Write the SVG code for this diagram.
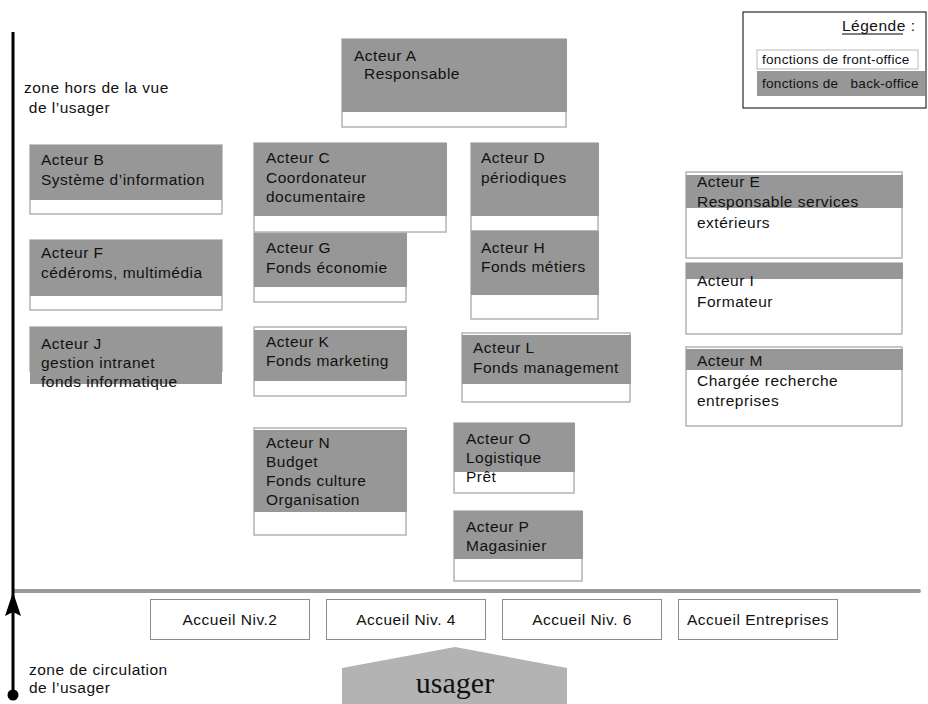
<svg xmlns="http://www.w3.org/2000/svg" width="928" height="704" viewBox="0 0 928 704">
<defs>
<style>
.t{font-family:"Liberation Sans",Arial,sans-serif;font-size:15.5px;letter-spacing:0.5px;fill:#111}
.ts{font-family:"Liberation Sans",Arial,sans-serif;font-size:13.5px;letter-spacing:0.3px;fill:#111}
.box{fill:#fff;stroke:#b4b4b4;stroke-width:1.5}
.g{fill:#979797}
.acc{fill:#fff;stroke:#8c8c8c;stroke-width:1}
</style>
</defs>
<rect width="928" height="704" fill="#fff"/>

<!-- separator -->
<line x1="14" y1="591" x2="919" y2="591" stroke="#9a9a9a" stroke-width="4" stroke-linecap="round"/>

<g id="connectors">
<line x1="13" y1="32" x2="13" y2="695" stroke="#000" stroke-width="3"/>
<path d="M13,592 L21,616 L13,612 L5,616 Z" fill="#000"/>
<circle cx="13" cy="695" r="5.5" fill="#000"/>
</g>

<g id="zone-labels">
<text class="t" x="24" y="93">zone hors de la vue</text>
<text class="t" x="24" y="113" xml:space="preserve"> de l’usager</text>
<text class="t" x="29" y="675">zone de circulation</text>
<text class="t" x="29" y="693">de l’usager</text>
</g>

<g id="legende">
<rect x="743" y="12" width="183" height="96" fill="#fff" stroke="#000" stroke-width="1"/>
<text class="t" x="842" y="31">Légende :</text>
<line x1="842" y1="34" x2="903" y2="34" stroke="#000" stroke-width="1"/>
<rect x="757" y="50" width="161" height="19" fill="#fff" stroke="#bbb" stroke-width="1"/>
<text class="ts" x="762" y="64">fonctions de front-office</text>
<rect x="757" y="71" width="168" height="25" class="g"/>
<text class="ts" x="762" y="88" xml:space="preserve">fonctions de   back-office</text>
</g>

<g id="acteur-a">
<rect class="box" x="342" y="39" width="224" height="88"/>
<rect class="g" x="342" y="39" width="225" height="73"/>
<text class="t" x="354" y="61">Acteur A</text>
<text class="t" x="364" y="79">Responsable</text>
</g>

<g id="acteur-b">
<rect class="box" x="30" y="145" width="192" height="69"/>
<rect class="g" x="30" y="145" width="192" height="55"/>
<text class="t" x="41" y="165">Acteur B</text>
<text class="t" x="41" y="185">Système d’information</text>
</g>

<g id="acteur-c">
<rect class="box" x="254" y="143" width="192" height="89"/>
<rect class="g" x="254" y="143" width="193" height="73"/>
<text class="t" x="266" y="163">Acteur C</text>
<text class="t" x="266" y="183">Coordonateur</text>
<text class="t" x="266" y="202">documentaire</text>
</g>

<g id="acteur-d">
<rect class="box" x="471" y="143" width="127" height="88"/>
<rect class="g" x="471" y="143" width="128" height="73"/>
<text class="t" x="481" y="163">Acteur D</text>
<text class="t" x="481" y="183">périodiques</text>
</g>

<g id="acteur-e">
<rect class="box" x="686" y="172" width="216" height="86"/>
<rect class="g" x="686" y="175" width="217" height="33"/>
<text class="t" x="697" y="187">Acteur E</text>
<text class="t" x="697" y="207">Responsable services</text>
<text class="t" x="697" y="228">extérieurs</text>
</g>

<g id="acteur-g">
<rect class="box" x="254" y="233" width="152" height="69"/>
<rect class="g" x="254" y="233" width="153" height="54"/>
<text class="t" x="266" y="253">Acteur G</text>
<text class="t" x="266" y="273">Fonds économie</text>
</g>

<g id="acteur-h">
<rect class="box" x="471" y="231" width="127" height="88"/>
<rect class="g" x="471" y="231" width="128" height="64"/>
<text class="t" x="481" y="253">Acteur H</text>
<text class="t" x="481" y="272">Fonds métiers</text>
</g>

<g id="acteur-f">
<rect class="box" x="30" y="240" width="192" height="70"/>
<rect class="g" x="30" y="240" width="192" height="56"/>
<text class="t" x="41" y="258">Acteur F</text>
<text class="t" x="41" y="278">cédéroms, multimédia</text>
</g>

<g id="acteur-i">
<rect class="box" x="686" y="263" width="216" height="71"/>
<rect class="g" x="686" y="263" width="217" height="16"/>
<text class="t" x="697" y="286">Acteur I</text>
<text class="t" x="697" y="307">Formateur</text>
</g>

<g id="acteur-j">
<rect class="box" x="30" y="327" width="192" height="44"/>
<rect class="g" x="30" y="327" width="192" height="57"/>
<text class="t" x="41" y="349">Acteur J</text>
<text class="t" x="41" y="368">gestion intranet</text>
<text class="t" x="41" y="387">fonds informatique</text>
</g>

<g id="acteur-k">
<rect class="box" x="254" y="327" width="152" height="69"/>
<rect class="g" x="254" y="330" width="153" height="51"/>
<text class="t" x="266" y="347">Acteur K</text>
<text class="t" x="266" y="366">Fonds marketing</text>
</g>

<g id="acteur-l">
<rect class="box" x="462" y="333" width="168" height="69"/>
<rect class="g" x="462" y="335" width="169" height="49"/>
<text class="t" x="473" y="353">Acteur L</text>
<text class="t" x="473" y="373">Fonds management</text>
</g>

<g id="acteur-m">
<rect class="box" x="686" y="347" width="216" height="79"/>
<rect class="g" x="686" y="349" width="217" height="21"/>
<text class="t" x="697" y="366">Acteur M</text>
<text class="t" x="697" y="386">Chargée recherche</text>
<text class="t" x="697" y="406">entreprises</text>
</g>

<g id="acteur-n">
<rect class="box" x="254" y="428" width="152" height="107"/>
<rect class="g" x="254" y="430" width="153" height="82"/>
<text class="t" x="266" y="448">Acteur N</text>
<text class="t" x="266" y="467">Budget</text>
<text class="t" x="266" y="486">Fonds culture</text>
<text class="t" x="266" y="505">Organisation</text>
</g>

<g id="acteur-o">
<rect class="box" x="454" y="423" width="120" height="70"/>
<rect class="g" x="454" y="423" width="121" height="49"/>
<text class="t" x="466" y="444">Acteur O</text>
<text class="t" x="466" y="463">Logistique</text>
<text class="t" x="466" y="482">Prêt</text>
</g>

<g id="acteur-p">
<rect class="box" x="454" y="511" width="128" height="70"/>
<rect class="g" x="454" y="511" width="129" height="48"/>
<text class="t" x="466" y="532">Acteur P</text>
<text class="t" x="466" y="551">Magasinier</text>
</g>

<g id="accueil-niv2">
<rect class="acc" x="150.5" y="599.5" width="159" height="40"/>
<text class="t" x="230" y="625" text-anchor="middle">Accueil Niv.2</text>
</g>
<g id="accueil-niv4">
<rect class="acc" x="326.5" y="599.5" width="159" height="40"/>
<text class="t" x="406" y="625" text-anchor="middle">Accueil Niv. 4</text>
</g>
<g id="accueil-niv6">
<rect class="acc" x="502.5" y="599.5" width="159" height="40"/>
<text class="t" x="582" y="625" text-anchor="middle">Accueil Niv. 6</text>
</g>
<g id="accueil-entreprises">
<rect class="acc" x="678.5" y="599.5" width="159" height="40"/>
<text class="t" x="758" y="625" text-anchor="middle">Accueil Entreprises</text>
</g>

<g id="usager">
<polygon points="342,668 455,647 567,668 567,704 342,704" fill="#b3b3b3"/>
<text x="455" y="693" text-anchor="middle" font-family="'Liberation Serif','Times New Roman',serif" font-size="30" fill="#111">usager</text>
</g>
</svg>
